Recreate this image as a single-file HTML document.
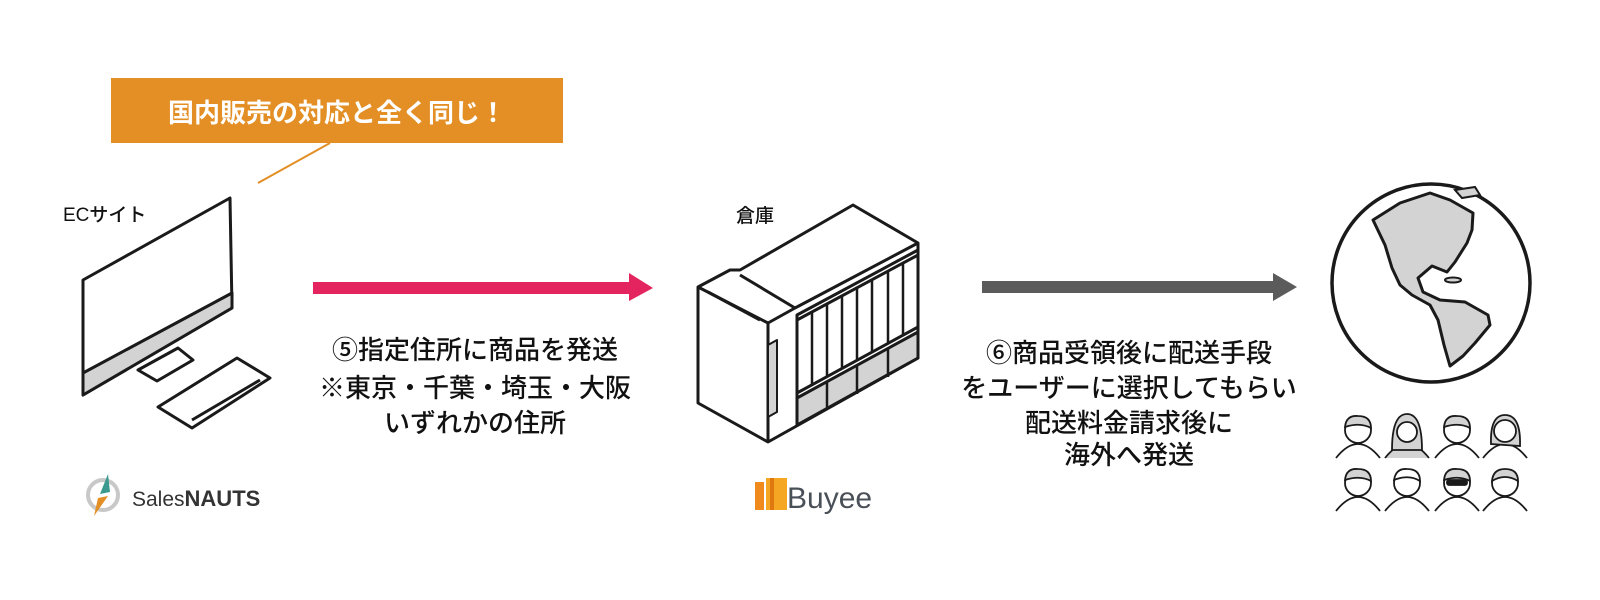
<!DOCTYPE html>
<html><head><meta charset="utf-8">
<style>
html,body{margin:0;padding:0;background:#fff;}
body{width:1600px;height:600px;overflow:hidden;}
svg{display:block;}
text{font-family:"Liberation Sans","Noto Sans CJK JP",sans-serif;}
</style></head>
<body>
<svg width="1600" height="600" viewBox="0 0 1600 600" xmlns="http://www.w3.org/2000/svg">
<!-- callout -->
<rect x="111" y="78" width="452" height="65" fill="#e38f25"/>
<text x="337" y="122" font-size="26" font-weight="bold" fill="#fff" text-anchor="middle">国内販売の対応と全く同じ！</text>
<line x1="330" y1="143" x2="258" y2="183" stroke="#e38f25" stroke-width="2"/>

<!-- EC site -->
<text x="63" y="221" font-size="19" font-weight="500" fill="#111">ECサイト</text>
<g stroke="#1a1a1a" stroke-width="3" stroke-linejoin="round" fill="#fff">
<polygon points="83,280 230,198 232,308 83,395"/>
<polygon points="83,373 232,293 232,308 83,395" fill="#d3d3d3"/>
<polygon points="138,370 157,381 193,360 178,348" />
<polygon points="158,407 237,358 270,378 192,428"/>
<line x1="192" y1="420" x2="260" y2="380"/>
</g>
<!-- SalesNAUTS logo -->
<circle cx="103" cy="495" r="15" fill="none" stroke="#c8c8c8" stroke-width="4"/>
<polygon points="108,474 100,494 110,492" fill="#3a9a8f"/>
<polygon points="98,498 108,496 94,516" fill="#e38f25"/>
<text x="132" y="506" font-size="21" fill="#333">Sales<tspan font-weight="bold" font-size="22">NAUTS</tspan></text>

<!-- pink arrow -->
<rect x="313" y="282" width="318" height="12" fill="#e3245e"/>
<polygon points="629,273 653,288 629,301" fill="#e3245e"/>
<g font-size="26" font-weight="500" fill="#111" text-anchor="middle">
<text x="475" y="359">⑤指定住所に商品を発送</text>
<text x="475" y="397">※東京・千葉・埼玉・大阪</text>
<text x="475" y="432">いずれかの住所</text>
</g>

<!-- warehouse -->
<text x="736" y="222" font-size="19" font-weight="500" fill="#111">倉庫</text>
<g stroke="#1a1a1a" stroke-width="3" stroke-linejoin="round" fill="#fff">
<polygon points="698,287 730,270 740,270 853,205 918,243 918,358 768,442 698,403"/>
<polyline points="698,287 768,323 768,442" fill="none"/>
<polyline points="768,323 795,308 740,275" fill="none"/>
<line x1="708" y1="292" x2="760" y2="320"/>
<line x1="795" y1="308" x2="918" y2="243"/>
<polygon points="797,315 918,250 918,358 797,425" fill="#fff"/>
<line x1="797" y1="320" x2="918" y2="255"/>
<polygon points="797,398 918,332 918,358 797,425" fill="#d3d3d3"/>
<line x1="797" y1="393" x2="918" y2="327"/>
<polygon points="768,345 777,340 777,412 768,417" fill="#d3d3d3" stroke-width="2"/>
<g stroke-width="2.5">
<line x1="812" y1="312" x2="812" y2="385"/>
<line x1="827" y1="304" x2="827" y2="377"/>
<line x1="842" y1="296" x2="842" y2="369"/>
<line x1="857" y1="288" x2="857" y2="361"/>
<line x1="872" y1="280" x2="872" y2="353"/>
<line x1="888" y1="271" x2="888" y2="344"/>
<line x1="903" y1="263" x2="903" y2="336"/>
<line x1="827" y1="382" x2="827" y2="410"/>
<line x1="857" y1="365" x2="857" y2="394"/>
<line x1="888" y1="348" x2="888" y2="377"/>
</g>
</g>
<!-- Buyee logo -->
<rect x="755" y="482" width="9" height="28" fill="#f08a1c"/>
<rect x="766" y="478" width="21" height="32" fill="#f5a623"/>
<rect x="770" y="478" width="4" height="32" fill="#e07810"/>
<text x="787" y="508" font-size="30" fill="#4a5058">Buyee</text>

<!-- gray arrow -->
<rect x="982" y="281" width="293" height="12" fill="#5b5b5b"/>
<polygon points="1273,273 1297,287 1273,301" fill="#5b5b5b"/>
<g font-size="26" font-weight="500" fill="#111" text-anchor="middle">
<text x="1129" y="362">⑥商品受領後に配送手段</text>
<text x="1129" y="397">をユーザーに選択してもらい</text>
<text x="1129" y="432">配送料金請求後に</text>
<text x="1129" y="464">海外へ発送</text>
</g>

<!-- globe -->
<circle cx="1431" cy="283" r="99" fill="#fff" stroke="#1a1a1a" stroke-width="3.5"/>
<path d="M1373,220 L1400,203 L1430,193 L1450,200 L1473,213 L1472,230 L1467,243 L1455,262 L1447,272 L1432,266 L1418,278 L1423,292 L1440,300 L1465,302 L1488,315 L1490,325 L1475,343 L1463,356 L1450,366 L1444,345 L1438,320 L1430,305 L1412,295 L1400,285 L1392,268 L1385,245 Z" fill="#d3d3d3" stroke="#1a1a1a" stroke-width="3" stroke-linejoin="round"/>
<path d="M1455,190 L1475,187 L1480,195 L1462,198 Z" fill="#d3d3d3" stroke="#1a1a1a" stroke-width="2"/>
<ellipse cx="1453" cy="280" rx="8" ry="2.5" fill="#d3d3d3" stroke="#1a1a1a" stroke-width="2"/>

<!-- people -->
<g stroke="#1a1a1a" stroke-width="1.8" fill="#fff">
<path d="M1336,458 Q1358,430 1380,458"/>
<circle cx="1358" cy="430" r="13"/>
<path d="M1345,427 Q1346,415 1358,416 Q1371,416 1371,428 Q1360,422 1345,427 Z" fill="#d3d3d3"/>
<path d="M1385,458 Q1407,430 1429,458" fill="#d3d3d3"/>
<path d="M1392,450 Q1392,414 1407,414 Q1422,414 1422,450 Z" fill="#d3d3d3"/>
<circle cx="1407" cy="432" r="10"/>
<path d="M1435,458 Q1457,430 1479,458"/>
<circle cx="1457" cy="430" r="13"/>
<path d="M1444,427 Q1445,415 1457,416 Q1470,416 1470,428 Q1459,422 1444,427 Z" fill="#d3d3d3"/>
<path d="M1483,458 Q1505,430 1527,458"/>
<path d="M1491,444 Q1490,415 1505,415 Q1521,415 1520,446 Z" fill="#d3d3d3"/>
<circle cx="1505" cy="431" r="11"/>

<path d="M1336,511 Q1358,483 1380,511"/>
<circle cx="1358" cy="483" r="13"/>
<path d="M1345,480 Q1346,468 1358,469 Q1371,469 1371,481 Q1360,475 1345,480 Z" fill="#d3d3d3"/>
<path d="M1385,511 Q1407,483 1429,511"/>
<circle cx="1407" cy="483" r="13"/>
<path d="M1394,480 Q1396,468 1407,469 Q1420,469 1420,481 Q1409,474 1394,480 Z" fill="#fff"/>
<path d="M1435,511 Q1457,483 1479,511"/>
<circle cx="1457" cy="483" r="13"/>
<path d="M1444,480 Q1445,468 1457,469 Q1470,469 1470,481 Q1459,475 1444,480 Z" fill="#d3d3d3"/>
<rect x="1447" y="480" width="20" height="5" rx="2" fill="#1a1a1a"/>
<path d="M1483,511 Q1505,483 1527,511"/>
<circle cx="1505" cy="483" r="13"/>
<path d="M1492,481 Q1493,469 1505,469 Q1518,469 1518,481 Q1505,473 1492,481 Z" fill="#d3d3d3"/>
</g>
</svg>
</body></html>
